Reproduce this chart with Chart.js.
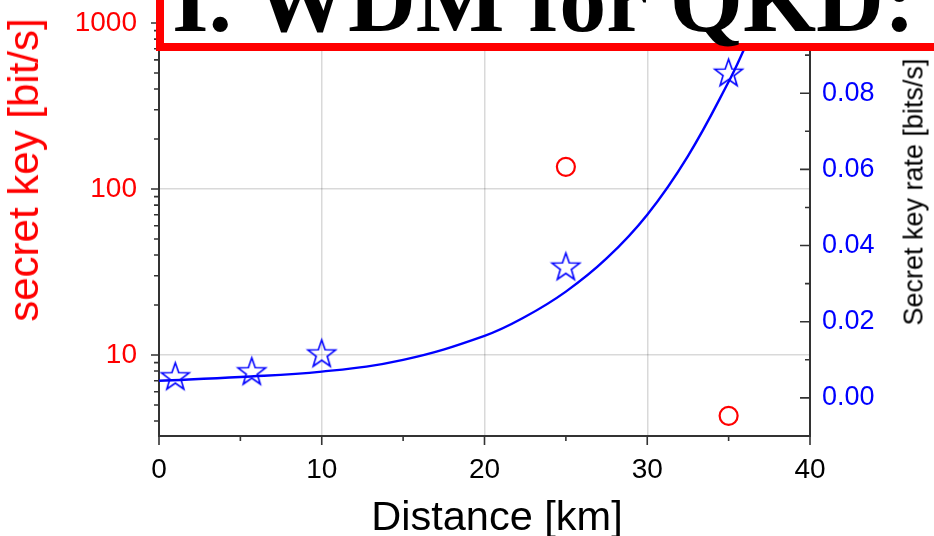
<!DOCTYPE html>
<html lang="en">
  <head>
    <meta charset="UTF-8" />
    <title>WDM for QKD</title>
    <style>
      html, body { margin: 0; padding: 0; background: #fff; overflow: hidden; }
      .wrap { position: relative; width: 934px; height: 536px; }
      canvas { position: absolute; left: 0; top: 0; }
      .box {
        position: absolute; left: 156px; top: -40px; width: 820px; height: 91px;
        box-sizing: border-box; border: 8px solid #ff0000; background: #fff;
      }
      .title {
        position: absolute; left: 172px; top: -48px; white-space: nowrap;
        font: bold 94px/1 "Liberation Serif", "Times New Roman", serif; color: #000;
      }
      .ax { position: absolute; white-space: nowrap; font-family: "Liberation Sans", Arial, sans-serif; line-height: 1; }
      .ax.rot { transform: translate(-50%, -50%) rotate(-90deg); }
      #ytitle { left: 24px; top: 170px; font-size: 42px; color: #ff0000; }
      #rtitle { left: 914px; top: 192px; font-size: 27px; color: #000; }
      #xtitle { left: 497px; top: 495px; font-size: 41.5px; color: #000; transform: translateX(-50%); }
    </style>
  </head>
  <body>
    <div class="wrap">
      <canvas id="myChart" width="934" height="536"></canvas>
      <div class="ax rot" id="ytitle">secret key [bit/s]</div>
      <div class="ax rot" id="rtitle">Secret key rate [bits/s]</div>
      <div class="ax" id="xtitle">Distance [km]</div>
      <div class="box"></div>
      <div class="title">I. WDM for QKD:</div>
    </div>

    <script src="https://cdn.jsdelivr.net/npm/chart.js@4.4.1/dist/chart.umd.min.js"></script>
    <script>
      // fitted curve (right axis)
      var fitKm = [0, 5, 10, 15, 20, 22.5, 25, 27.5, 30, 32.5, 35, 36, 37];
      var fitRate = [0.0045, 0.0055, 0.0069, 0.01, 0.0163, 0.0213, 0.0279, 0.0366, 0.0481, 0.0635, 0.083, 0.092, 0.1015];

      // measured points, stars (right axis)
      var starKm = [1, 5.7, 10, 25, 35];
      var starRate = [0.0058, 0.0071, 0.0118, 0.0346, 0.0855];

      // measured points, circles (left log axis)
      var circleKm = [25, 35];
      var circleKey = [136, 4.3];

      var keyLabels = [10, 100, 1000];
      var kmGrid = [10, 20, 30];

      var red = "rgb(255,0,0)";
      var blue = "rgb(0,0,255)";
      var axisColor = "#333";
      var gridColor = "rgba(0,0,0,0.15)";

      function pairs(xs, ys) {
        return xs.map(function (x, i) {
          return { x: x, y: ys[i] };
        });
      }

      // five pointed outline star for the point style
      function makeStar(r, color) {
        var c = document.createElement("canvas");
        var size = Math.ceil(r * 2 + 4);
        c.width = size;
        c.height = size;
        var g = c.getContext("2d");
        g.beginPath();
        for (var i = 0; i < 10; i++) {
          var rr = i % 2 === 0 ? r : r * 0.4;
          var a = -Math.PI / 2 + (i * Math.PI) / 5;
          g.lineTo(size / 2 + rr * Math.cos(a), size / 2 + 1.5 + rr * Math.sin(a));
        }
        g.closePath();
        g.strokeStyle = color;
        g.lineWidth = 1.6;
        g.stroke();
        return c;
      }

      function isNice(v) {
        var e = Math.floor(Math.log10(v) + 1e-9);
        var s = v / Math.pow(10, e);
        return Math.abs(s - Math.round(s)) < 1e-6 ? Math.round(s) : 0;
      }

      // fixed axis sizes so the plot area sits where the original one does
      function fixY(width) {
        return function (s) {
          s.width = width;
          s.paddingTop = 0;
          s.paddingBottom = 0;
        };
      }

      // tick marks: outward on left and bottom, inward on the right
      var tickMarks = {
        id: "tickMarks",
        afterDraw: function (chart) {
          var c = chart.ctx;
          var x = chart.scales.x, yL = chart.scales.yL, yR = chart.scales.yR;
          c.save();
          c.strokeStyle = axisColor;
          c.lineWidth = 1.6;
          c.beginPath();
          x.ticks.forEach(function (t) {
            var px = x.getPixelForValue(t.value);
            var len = Math.round(t.value) % 10 === 0 ? 9 : 5;
            c.moveTo(px, x.top);
            c.lineTo(px, x.top + len);
          });
          yL.ticks.forEach(function (t) {
            var s = isNice(t.value);
            if (!s) return;
            var py = yL.getPixelForValue(t.value);
            var len = s === 1 ? 8 : 5;
            c.moveTo(yL.right - len, py);
            c.lineTo(yL.right, py);
          });
          yR.ticks.forEach(function (t) {
            var n = Math.round(t.value * 100);
            var py = yR.getPixelForValue(t.value);
            var len = n % 2 === 0 ? 10 : 5;
            c.moveTo(yR.left - len, py);
            c.lineTo(yR.left, py);
          });
          c.stroke();
          c.restore();
        },
      };

      Chart.defaults.font.family = '"Liberation Sans", Arial, sans-serif';

      var ctx = document.getElementById("myChart").getContext("2d");
      var myChart = new Chart(ctx, {
        type: "scatter",
        data: {
          datasets: [
            {
              type: "line",
              data: pairs(fitKm, fitRate),
              yAxisID: "yR",
              borderColor: blue,
              borderWidth: 2.4,
              pointRadius: 0,
              tension: 0.4,
              fill: false,
            },
            {
              data: pairs(starKm, starRate),
              yAxisID: "yR",
              pointStyle: makeStar(14.5, blue),
              pointRadius: 14,
            },
            {
              data: pairs(circleKm, circleKey),
              yAxisID: "yL",
              pointStyle: "circle",
              pointRadius: 9,
              borderColor: red,
              borderWidth: 2.2,
              backgroundColor: "rgba(0,0,0,0)",
            },
          ],
        },
        options: {
          responsive: false,
          animation: false,
          layout: { padding: { top: 17 } },
          plugins: { legend: { display: false }, tooltip: { enabled: false } },
          scales: {
            x: {
              type: "linear",
              min: 0,
              max: 40,
              afterFit: function (s) { s.height = 100; },
              border: { display: true, color: axisColor, width: 2 },
              grid: {
                drawTicks: false,
                lineWidth: 1.5,
                color: function (c) {
                  return kmGrid.indexOf(c.tick.value) >= 0 ? gridColor : "rgba(0,0,0,0)";
                },
              },
              ticks: {
                stepSize: 5,
                autoSkip: false,
                maxRotation: 0,
                padding: 17,
                color: "#000",
                font: { size: 28 },
                callback: function (v) {
                  return v % 10 === 0 ? String(v) : "";
                },
              },
            },
            yL: {
              type: "logarithmic",
              position: "left",
              min: 3.25,
              max: 1087,
              afterFit: fixY(159),
              border: { display: true, color: axisColor, width: 2 },
              grid: {
                drawTicks: false,
                lineWidth: 1.5,
                color: function (c) {
                  return keyLabels.indexOf(c.tick.value) >= 0 ? gridColor : "rgba(0,0,0,0)";
                },
              },
              ticks: {
                autoSkip: false,
                padding: 22,
                color: red,
                font: { size: 28 },
                callback: function (v) {
                  return keyLabels.indexOf(v) >= 0 ? String(v) : "";
                },
              },
            },
            yR: {
              type: "linear",
              position: "right",
              min: -0.01,
              max: 0.1,
              afterFit: fixY(124),
              border: { display: true, color: axisColor, width: 2 },
              grid: { drawOnChartArea: false, drawTicks: false },
              ticks: {
                stepSize: 0.01,
                autoSkip: false,
                padding: 12,
                color: blue,
                font: { size: 27 },
                callback: function (v) {
                  var n = Math.round(v * 100);
                  return n % 2 === 0 && n >= 0 ? (n / 100).toFixed(2) : "";
                },
              },
            },
          },
        },
        plugins: [tickMarks],
      });
    </script>
  </body>
</html>
